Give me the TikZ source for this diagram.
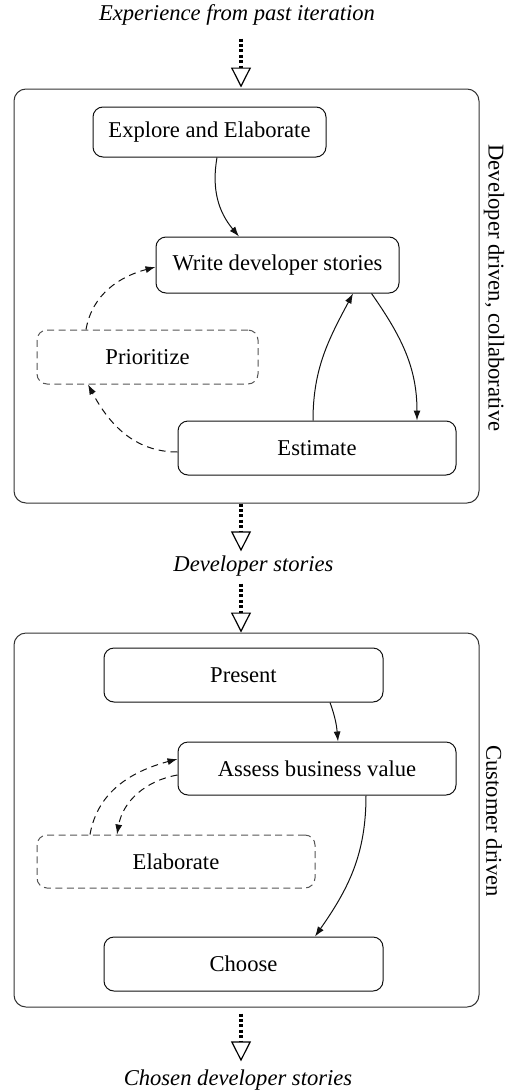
\documentclass[tikz,border=0pt]{standalone}
\usepackage{fontspec}
\setmainfont{Liberation Serif}
\usepackage{tikz}
\usetikzlibrary{arrows.meta, positioning, calc}
\definecolor{myline}{HTML}{111111}
\definecolor{myframe}{HTML}{333333}
\definecolor{mydash}{HTML}{555555}
\tikzset{
stagebox/.style={
draw=myline,
rounded corners=5pt,
line width=0.5pt,
minimum width=139pt,
minimum height=27pt,
font=\fontsize{11.3}{13}\selectfont,
inner sep=2pt
},
optionalbox/.style={
stagebox,
draw=mydash,
dash pattern=on 3.5pt off 2.2pt
},
phasebox/.style={
draw=myframe,
rounded corners=6pt,
line width=0.5pt,
minimum width=232.5pt
},
flowlabel/.style={
font=\fontsize{11.3}{13}\selectfont\itshape,
inner sep=2pt
},
sidelabel/.style={
font=\fontsize{11.3}{13}\selectfont,
rotate=-90,
inner sep=0pt
},
arrow/.style={
-{Latex[length=5pt,width=3.5pt]},
line width=0.5pt,
draw=myline
},
dasharrow/.style={
arrow,
dash pattern=on 3.5pt off 2.5pt
},
handoff/.style={
-{Triangle[open, length=10pt, width=10pt, line width=0.6pt]},
line width=2.2pt,
dash pattern=on 1.5pt off 1.2pt
}
}

\begin{document}
\begin{tikzpicture}[x=0.5pt, y=-0.5pt]
\useasboundingbox (0,0) rectangle (507,1092);
\coordinate (flowX) at (241,0);

% phase 1, developer side
\node[flowlabel] (pastExp) at (237,15) {Experience from past iteration};
\node[phasebox, minimum height=207pt] (devPhase) at (246.5,296) {};
\node[sidelabel] (devSide) at (494,288) {Developer driven, collaborative};

\node[stagebox, minimum width=116.5pt, minimum height=25pt] (explore) at (209.5,132) {Explore and Elaborate};
\node[stagebox, minimum width=121.5pt, minimum height=28pt] (write) at (277.5,265) {Write developer stories};
\node[optionalbox, minimum width=110.5pt] (prioritize) at (147.5,357) {Prioritize};
\node[stagebox] (estimate) at (317,448) {Estimate};

\draw[arrow] ([xshift=3.75pt]explore.south) to[out=-100, in=130] ([xshift=-19.25pt]write.north);
\draw[arrow] ([xshift=47pt]write.south) to[out=-55, in=90] ([xshift=50pt]estimate.north);
\draw[arrow] ([xshift=-2pt]estimate.north) to[out=90, in=-118] ([xshift=37.75pt]write.south);
\draw[dasharrow] ([yshift=-2pt]estimate.west) to[out=180, in=-62] ([xshift=-29.75pt]prioritize.south);
\draw[dasharrow] ([xshift=-30.75pt]prioritize.north) to[out=80, in=-165] ([yshift=-1pt]write.west);

% hand over
\node[flowlabel] (devStories) at (253.5,566) {Developer stories};
\draw[handoff, shorten <=4.4pt, shorten >=0.5pt] (pastExp.south -| flowX) -- (devPhase.north -| flowX);
\draw[handoff] (devPhase.south -| flowX) -- (devStories.north -| flowX);

% phase 2, customer side
\node[phasebox, minimum height=187pt] (custPhase) at (246.5,820) {};
\node[sidelabel] (custSide) at (494,821) {Customer driven};
\draw[handoff, shorten <=1.5pt] (devStories.south -| flowX) -- (custPhase.north -| flowX);

\node[stagebox, minimum width=139.5pt] (present) at (243.5,675) {Present};
\node[stagebox, minimum height=26.5pt] (assess) at (317,768.5) {Assess business value};
\node[optionalbox, minimum height=26.5pt] (elaborate) at (176,861.5) {Elaborate};
\node[stagebox, minimum width=139.5pt] (choose) at (243.5,964) {Choose};

\draw[arrow] ([xshift=43.25pt]present.south) to[out=-70, in=95] ([xshift=10.5pt]assess.north);
\draw[arrow] ([xshift=24.5pt]assess.south) to[out=-90, in=55] ([xshift=35.75pt]choose.north);
\draw[dasharrow] ([yshift=-3.25pt]assess.west) to[out=190, in=80] ([xshift=-29.5pt]elaborate.north);
\draw[dasharrow] ([xshift=-43pt]elaborate.north) to[out=80, in=195] ([yshift=4.75pt]assess.west);

% end
\node[flowlabel] (chosen) at (238,1080) {Chosen developer stories};
\draw[handoff, shorten <=3pt, shorten >=2pt] (custPhase.south -| flowX) -- (chosen.north -| flowX);

\end{tikzpicture}
\end{document}
